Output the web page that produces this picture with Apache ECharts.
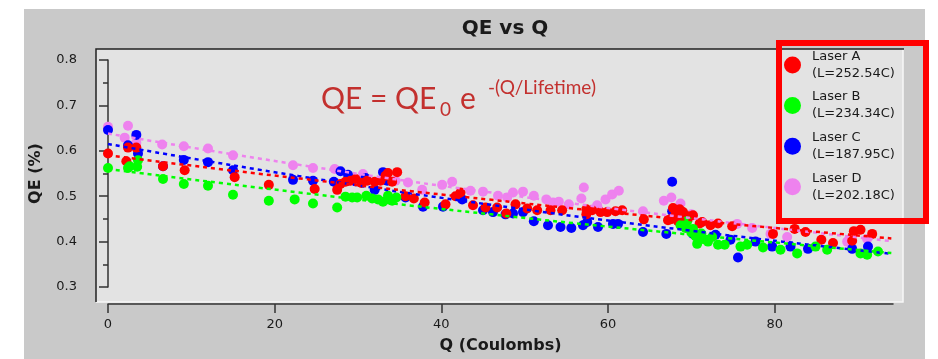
<!DOCTYPE html>
<html>
<head>
<meta charset="utf-8">
<script src="https://cdn.jsdelivr.net/npm/echarts@6/dist/echarts.min.js"></script>
<style>
  html, body { margin: 0; padding: 0; background: #fff; }
  #chart { width: 938px; height: 359px; }
</style>
</head>
<body>
<div id="chart"></div>
<script>
// values, [Q (C), QE (%)]
const laserA = [[0,0.594],[2.2,0.577],[2.4,0.607],[3.4,0.607],[6.6,0.566],[9.2,0.557],[15.2,0.542],[19.3,0.525],[24.8,0.516],[27.5,0.514],[27.9,0.527],[28.5,0.532],[29.1,0.534],[29.7,0.538],[30.4,0.529],[31.1,0.534],[32,0.532],[32.7,0.534],[33.3,0.545],[33.6,0.551],[34.1,0.532],[34.7,0.553],[35.7,0.5],[36.7,0.495],[38,0.486],[40.5,0.482],[41.7,0.5],[42.3,0.508],[43.8,0.48],[45.3,0.475],[46.7,0.475],[47.8,0.462],[48.9,0.482],[50.3,0.473],[51.5,0.469],[53.1,0.469],[54.5,0.469],[57.4,0.471],[57.4,0.46],[58.1,0.469],[59.1,0.465],[59.9,0.465],[60.9,0.467],[61.7,0.469],[64.3,0.449],[67.2,0.447],[67.5,0.449],[67.8,0.474],[68.1,0.46],[68.4,0.445],[68.6,0.471],[68.8,0.451],[69,0.465],[69.6,0.456],[70.2,0.458],[71,0.44],[71.3,0.443],[72.3,0.436],[73.2,0.44],[74.9,0.434],[79.8,0.417],[82.4,0.428],[83.7,0.421],[85.6,0.404],[87,0.397],[89.3,0.402],[89.5,0.423],[90.3,0.426],[91.7,0.417]];
const laserB = [[0,0.562],[2.4,0.562],[2.6,0.566],[3.5,0.565],[3.6,0.579],[6.6,0.538],[9.1,0.527],[12,0.523],[15,0.503],[19.3,0.49],[22.4,0.493],[24.6,0.484],[27.5,0.475],[28.5,0.499],[29.3,0.497],[29.9,0.497],[31,0.501],[31.7,0.495],[32.4,0.493],[33,0.488],[33.6,0.501],[34.1,0.49],[34.6,0.497],[68.7,0.436],[69.3,0.43],[69.5,0.445],[70,0.42],[70.2,0.428],[70.5,0.412],[70.7,0.395],[71.2,0.418],[71.5,0.405],[72,0.4],[72.5,0.41],[73.2,0.393],[74,0.393],[75.9,0.389],[76.7,0.393],[78.6,0.387],[80.7,0.382],[82.7,0.374],[84.9,0.389],[86.3,0.382],[90.3,0.374],[91.1,0.371],[92.4,0.378]];
const laserC = [[0,0.646],[2.4,0.612],[3.4,0.635],[3.6,0.594],[6.6,0.566],[9.1,0.58],[12,0.575],[15,0.557],[22.2,0.536],[24.6,0.534],[27.1,0.532],[27.9,0.555],[28.8,0.547],[30.9,0.54],[32,0.514],[33,0.553],[33.5,0.534],[35.7,0.497],[37.8,0.477],[40.2,0.477],[42.5,0.493],[45,0.469],[46.2,0.465],[47.7,0.46],[48.6,0.462],[49.8,0.465],[51.1,0.445],[52.8,0.436],[54.3,0.432],[55.6,0.43],[57,0.436],[57.5,0.443],[58.8,0.432],[60.6,0.439],[61.2,0.439],[64.2,0.421],[67,0.417],[67.7,0.532],[67.7,0.467],[68.5,0.445],[70.2,0.417],[72.9,0.415],[74.7,0.404],[75.6,0.365],[77.7,0.4],[79.7,0.389],[81.9,0.389],[84,0.384],[89.3,0.384],[91.2,0.389]];
const laserD = [[0,0.653],[2,0.629],[2.4,0.655],[3.4,0.618],[6.5,0.614],[9.1,0.61],[12,0.605],[15,0.59],[22.2,0.568],[24.6,0.562],[27.2,0.56],[30.6,0.549],[34.5,0.534],[36,0.53],[37.7,0.514],[40.1,0.525],[41.3,0.532],[43.5,0.512],[45,0.51],[46.8,0.501],[47.9,0.497],[48.6,0.508],[49.8,0.51],[51.1,0.501],[52.6,0.493],[53.4,0.486],[54.1,0.488],[55.3,0.482],[56.8,0.495],[57.1,0.519],[58.7,0.48],[59.7,0.493],[60.5,0.504],[61.3,0.512],[64.2,0.467],[66.7,0.49],[67.6,0.497],[68.7,0.484],[70,0.46],[75.5,0.439],[77.3,0.43],[79.5,0.417],[81.5,0.41],[88.7,0.4],[91.1,0.406]];

// dotted fit curves, read at a few Q positions
const fitQ = [0, 23, 46, 69, 94];
const fitA = [0.59, 0.539, 0.492, 0.449, 0.407];
const fitB = [0.56, 0.508, 0.46, 0.417, 0.375];
const fitC = [0.615, 0.544, 0.481, 0.426, 0.373];
const fitD = [0.638, 0.569, 0.508, 0.454, 0.401];

const names = ['Laser A', 'Laser B', 'Laser C', 'Laser D'];
const lifetimes = ['252.54', '234.34', '187.95', '202.18'];
const colors = ['#ff0000', '#00ff00', '#0000ff', '#ee82ee'];
const xTicks = [0, 20, 40, 60, 80];

const FONT = 'DejaVu Sans';
const INK = '#1a1a1a';
const FORMULA = '#c3302e';

const chart = echarts.init(document.getElementById('chart'));

function fitSeries(vals, color) {
  return {
    type: 'line',
    data: fitQ.map((q, i) => [q, vals[i]]),
    smooth: true,
    showSymbol: false,
    silent: true,
    lineStyle: { color: color, width: 2.5, type: [4, 4] },
  };
}

function dots(name, data, color) {
  return {
    name: name,
    type: 'scatter',
    data: data,
    symbol: 'circle',
    symbolSize: 10,
    itemStyle: { color: color, opacity: 1 },
  };
}

chart.setOption({
  animation: false,
  backgroundColor: '#fff',
  title: {
    text: 'QE vs Q',
    left: 500,
    top: 14,
    textAlign: 'center',
    textStyle: { fontFamily: FONT, fontSize: 20, fontWeight: 'bold', color: INK },
  },
  legend: {
    data: names,
    orient: 'vertical',
    left: 784,
    top: 39.5,
    padding: 0,
    itemWidth: 17,
    itemHeight: 17,
    itemGap: -10.4,
    icon: 'circle',
    formatter: (n) => n + '\n(L=' + lifetimes[names.indexOf(n)] + 'C)',
    textStyle: { fontFamily: FONT, fontSize: 13, lineHeight: 17, color: INK, padding: [17, 0, 0, 6] },
  },
  grid: { left: 108, top: 60, width: 785, height: 231, show: false },
  xAxis: {
    type: 'value',
    min: 0,
    max: 94.2,
    offset: 17,
    name: 'Q (Coulombs)',
    nameLocation: 'middle',
    nameGap: 34,
    nameTextStyle: { fontFamily: FONT, fontSize: 16, fontWeight: 'bold', color: INK },
    axisLine: { lineStyle: { color: '#333', width: 1.5 } },
    axisTick: { length: 9, customValues: xTicks, lineStyle: { color: '#333', width: 1.5 } },
    axisLabel: { customValues: xTicks, margin: 14, fontFamily: FONT, fontSize: 13, color: INK },
    splitLine: { show: false },
  },
  yAxis: {
    type: 'value',
    min: 0.3,
    max: 0.8,
    interval: 0.1,
    offset: 17,
    name: 'QE (%)',
    nameLocation: 'middle',
    nameGap: 47,
    nameTextStyle: { fontFamily: FONT, fontSize: 16, fontWeight: 'bold', color: INK },
    axisLine: { show: true, lineStyle: { color: '#333', width: 1.5 } },
    axisTick: { show: true, length: 9, lineStyle: { color: '#333', width: 1.5 } },
    minorTick: { show: true, splitNumber: 2, length: 5, lineStyle: { color: '#333', width: 1.5 } },
    axisLabel: { margin: 14, fontFamily: FONT, fontSize: 13, color: INK, formatter: (v) => v.toFixed(1) },
    splitLine: { show: false },
    minorSplitLine: { show: false },
  },
  graphic: [
    { type: 'rect', z: -30, shape: { x: 24, y: 9, width: 901, height: 360 }, style: { fill: '#c9c9c9' } },
    { type: 'rect', z: -20, shape: { x: 96, y: 49, width: 807, height: 253 }, style: { fill: '#e3e3e3' } },
    { type: 'polyline', z: -10, shape: { points: [[96, 302], [903, 302], [903, 49]] }, style: { stroke: '#f7f7f7', lineWidth: 1.5, fill: null } },
    { type: 'polyline', z: -10, shape: { points: [[96, 302], [96, 49], [904, 49]] }, style: { stroke: '#222', lineWidth: 1.5, fill: null } },
    { type: 'rect', z: 50, shape: { x: 779, y: 43, width: 147, height: 178 }, style: { fill: null, stroke: '#ff0000', lineWidth: 6 } },
    { type: 'text', z: 50, x: 321, y: 99, style: { text: 'QE = QE', fontFamily: 'Lato', fontSize: 30, fill: FORMULA, verticalAlign: 'middle' } },
    { type: 'text', z: 50, x: 440, y: 110, style: { text: '0', fontFamily: 'Lato', fontSize: 19, fill: FORMULA, verticalAlign: 'middle' } },
    { type: 'text', z: 50, x: 460, y: 99, style: { text: 'e', fontFamily: 'Lato', fontSize: 30, fill: FORMULA, verticalAlign: 'middle' } },
    { type: 'text', z: 50, x: 488, y: 88, style: { text: '-(Q/Lifetime)', fontFamily: 'Lato', fontSize: 19, fill: FORMULA, verticalAlign: 'middle' } },
  ],
  series: [
    fitSeries(fitD, colors[3]),
    fitSeries(fitC, colors[2]),
    fitSeries(fitA, colors[0]),
    fitSeries(fitB, colors[1]),
    dots(names[3], laserD, colors[3]),
    dots(names[2], laserC, colors[2]),
    dots(names[0], laserA, colors[0]),
    dots(names[1], laserB, colors[1]),
  ],
});
</script>
</body>
</html>
